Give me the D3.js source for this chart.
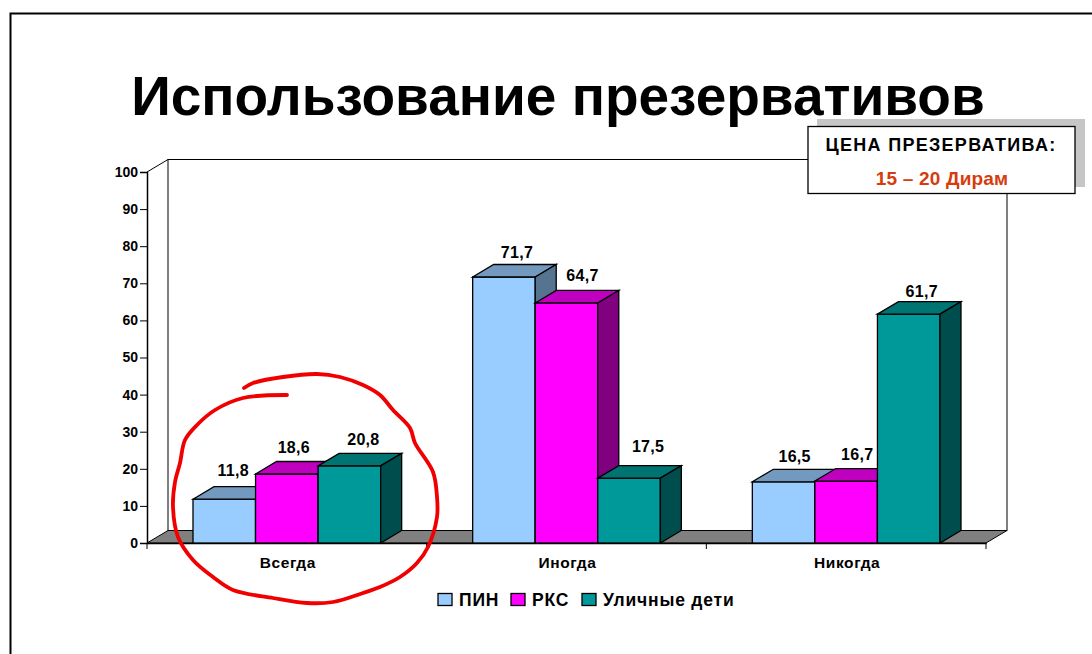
<!DOCTYPE html>
<html>
<head>
<meta charset="utf-8">
<title>Использование презервативов</title>
<script src="https://cdn.jsdelivr.net/npm/d3@7"></script>
<style>
    body { margin: 0; background: #fff; }
    text { font-family: "Liberation Sans", Arial, sans-serif; font-weight: bold; fill: #000; }
</style>
</head>
<body>
<script>
const categories = ["Всегда", "Иногда", "Никогда"];
const seriesNames = ["ПИН", "РКС", "Уличные дети"];
const pin = [11.8, 71.7, 16.5];
const rks = [18.6, 64.7, 16.7];
const kids = [20.8, 17.5, 61.7];
const yTicks = [0, 10, 20, 30, 40, 50, 60, 70, 80, 90, 100];

// front, top, side
const colors = [
    ["#99ccff", "#7399bf", "#567390"],
    ["#ff00ff", "#bf00bf", "#800080"],
    ["#009999", "#007373", "#004d4d"]
];
const values = [pin, rks, kids];

// the labels were placed by hand in the original, [dx, dy] per category and series
const labelNudge = [
    [[0, -0.5], [-2, 1.5], [5, 1.5]],
    [[4, 3.5], [7, 0.5], [10, -3.5]],
    [[2, 2.5], [2, 1.5], [4, 5.5]]
];

// hand drawn circle over the first group
const scribble = [[244,388],[253,383],[283,377],[317,374],[340,377],[363,385],[380,395],[393,410],[410,428],[415,443],
    [433,472],[437,497],[437,517],[428,547],[417,563],[400,577],[380,587],[363,593],[333,602],[307,603],[273,598],
    [233,590],[213,577],[193,560],[178,537],[173,507],[175,482],[180,463],[185,440],[197,425],[215,410],[243,398],[287,395]];

const w = 1092, h = 654;
const plot = {left: 147, right: 986, top: 172, bottom: 543};
const depth = {x: 21, y: 12.5};

const svg = d3.select("body").append("svg")
    .attr("width", w)
    .attr("height", h)
    .style("display", "block");

const x = d3.scaleBand().domain(categories).range([plot.left, plot.right]);
const xInner = d3.scaleBand().domain(d3.range(3)).range([46, x.bandwidth() - 46]);
const y = d3.scaleLinear().domain([0, 100]).range([plot.bottom, plot.top]);

// page frame
svg.append("path")
    .attr("d", "M10.5,654V13.5H1092")
    .attr("fill", "none")
    .attr("stroke", "#000")
    .attr("stroke-width", 2);

svg.append("text")
    .text("Использование презервативов")
    .attr("x", 558)
    .attr("y", 115)
    .attr("text-anchor", "middle")
    .style("font-size", "55px");

// back wall
svg.append("rect")
    .attr("x", plot.left + depth.x)
    .attr("y", y(100) - depth.y)
    .attr("width", plot.right - plot.left)
    .attr("height", plot.bottom - plot.top)
    .attr("fill", "#fff")
    .attr("stroke", "#000");

// top of the left wall
svg.append("line")
    .attr("x1", plot.left).attr("y1", y(100))
    .attr("x2", plot.left + depth.x).attr("y2", y(100) - depth.y)
    .attr("stroke", "#000");

// floor
svg.append("path")
    .attr("d", `M${plot.left},${y(0)}L${plot.left + depth.x},${y(0) - depth.y}H${plot.right + depth.x}L${plot.right},${y(0)}Z`)
    .attr("fill", "#808080")
    .attr("stroke", "#000");

const yAxis = svg.append("g")
    .attr("transform", `translate(${plot.left},0)`)
    .call(d3.axisLeft(y).tickValues(yTicks).tickSize(7).tickPadding(2));
const xAxis = svg.append("g")
    .attr("transform", `translate(0,${plot.bottom})`)
    .call(d3.axisBottom(x).tickSize(0).tickPadding(14));
// band edges as ticks
xAxis.selectAll(".edge")
    .data(d3.range(4))
    .enter()
    .append("line")
    .attr("x1", (d)=>plot.left + d * x.bandwidth())
    .attr("x2", (d)=>plot.left + d * x.bandwidth())
    .attr("y1", 0)
    .attr("y2", 6)
    .attr("stroke", "#000");
svg.selectAll(".domain").attr("stroke", "#000").attr("stroke-width", 1.5);
yAxis.selectAll("text").style("font-size", "14px");
xAxis.selectAll("text")
    .attr("dx", 1)
    .style("font-size", "15.5px")
    .style("letter-spacing", "0.6px");

// bars, left to right so each one covers the side of the previous
categories.forEach((cat, c)=>{
    values.forEach((vals, s)=>{
        const x0 = x(cat) + xInner(s);
        const x1 = x0 + xInner.bandwidth();
        const top = y(vals[c]);
        const g = svg.append("g").attr("stroke", "#000").attr("stroke-width", 1.3);
        g.append("rect")
            .attr("x", x0).attr("y", top)
            .attr("width", x1 - x0).attr("height", plot.bottom - top)
            .attr("fill", colors[s][0]);
        g.append("path")
            .attr("d", `M${x0},${top}l${depth.x},${-depth.y}H${x1 + depth.x}L${x1},${top}Z`)
            .attr("fill", colors[s][1]);
        g.append("path")
            .attr("d", `M${x1},${top}l${depth.x},${-depth.y}V${plot.bottom - depth.y}L${x1},${plot.bottom}Z`)
            .attr("fill", colors[s][2]);
    });
});

// value labels go last so no bar hides them
categories.forEach((cat, c)=>{
    values.forEach((vals, s)=>{
        svg.append("text")
            .text(String(vals[c]).replace(".", ","))
            .attr("x", x(cat) + xInner(s) + xInner.bandwidth() / 2 + 9 + labelNudge[c][s][0])
            .attr("y", y(vals[c]) - depth.y - 10 + labelNudge[c][s][1])
            .attr("text-anchor", "middle")
            .style("font-size", "16px")
            .style("letter-spacing", "0.3px");
    });
});

// legend
const legendX = [438, 511, 582];
seriesNames.forEach((name, i)=>{
    svg.append("rect")
        .attr("x", legendX[i]).attr("y", 593.5)
        .attr("width", 14).attr("height", 12)
        .attr("fill", colors[i][0])
        .attr("stroke", "#000")
        .attr("stroke-width", 1.3);
    svg.append("text")
        .text(name)
        .attr("x", legendX[i] + 21)
        .attr("y", 605.5)
        .style("font-size", "17.5px")
        .style("letter-spacing", "0.8px");
});

// price box
svg.append("rect")
    .attr("x", 817).attr("y", 119)
    .attr("width", 268).attr("height", 68)
    .attr("fill", "#c6c6c6");
svg.append("rect")
    .attr("x", 808).attr("y", 126.5)
    .attr("width", 267).attr("height", 67)
    .attr("fill", "#fff")
    .attr("stroke", "#000")
    .attr("stroke-width", 1.3);
svg.append("text")
    .text("ЦЕНА ПРЕЗЕРВАТИВА:")
    .attr("x", 941).attr("y", 151)
    .attr("text-anchor", "middle")
    .style("font-size", "18px")
    .style("letter-spacing", "1.3px");
svg.append("text")
    .text("15 – 20 Дирам")
    .attr("x", 942).attr("y", 185)
    .attr("text-anchor", "middle")
    .style("font-size", "19px")
    .style("letter-spacing", "0.2px")
    .style("fill", "#d63c0c");

svg.append("path")
    .attr("d", d3.line().curve(d3.curveCatmullRom)(scribble))
    .attr("fill", "none")
    .attr("stroke", "#f00000")
    .attr("stroke-width", 3.8)
    .attr("stroke-linecap", "round");
</script>
</body>
</html>
